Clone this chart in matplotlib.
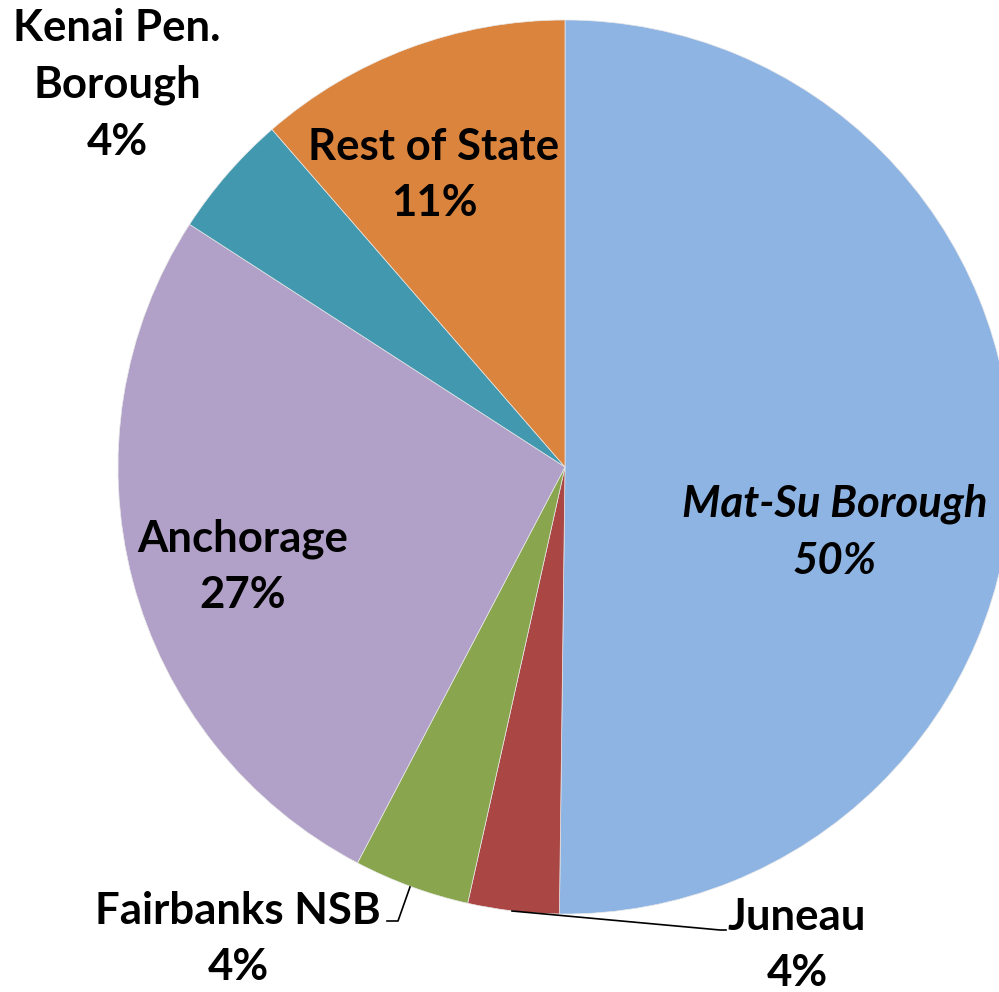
import matplotlib.pyplot as plt

plt.rcParams['font.family'] = ['Lato', 'DejaVu Sans']

# Anteile je Region
regions = ['Mat-Su Borough', 'Juneau', 'Fairbanks NSB', 'Anchorage',
           'Kenai Pen.\nBorough', 'Rest of State']
shares = [50.3, 3.3, 4.2, 26.5, 4.5, 11.4]
pct_labels = ['50%', '4%', '4%', '27%', '4%', '11%']
colors = ['#8EB4E3', '#AA4644', '#89A54E', '#B1A0C7', '#4198AF', '#DB843D']

W, H = 999, 992
fig = plt.figure(figsize=(W / 100, H / 100), dpi=100)
ax = fig.add_axes([0, 0, 1, 1])

cx, cy, r = 565, H - 467, 447
ax.pie(shares, colors=colors, startangle=90, counterclock=False,
       radius=r, center=(cx, cy), frame=True,
       wedgeprops=dict(linewidth=0.5, edgecolor='#e8e8e8'))
ax.set_xlim(0, W)
ax.set_ylim(0, H)
ax.set_aspect('equal')
ax.axis('off')

# Beschriftungspositionen (Pixel, y von oben)
label_pos = [(835, 532), (797, 945), (238, 939), (243, 567), (117, 85), (434, 175)]
fs = 31.5
for name, pct, (x, y) in zip(regions, pct_labels, label_pos):
    style = 'italic' if name.startswith('Mat-Su') else 'normal'
    ax.text(x, H - y, f'{name}\n{pct}', ha='center', va='center',
            fontsize=fs, fontweight='bold', fontstyle=style,
            linespacing=1.5)

# Führungslinien
ax.plot([512, 720, 726], [H - 911, H - 930, H - 930], color='black', lw=1.2)
ax.plot([410, 398, 387], [H - 887, H - 921, H - 921], color='black', lw=1.2)

fig.savefig('out.png', dpi=100)
